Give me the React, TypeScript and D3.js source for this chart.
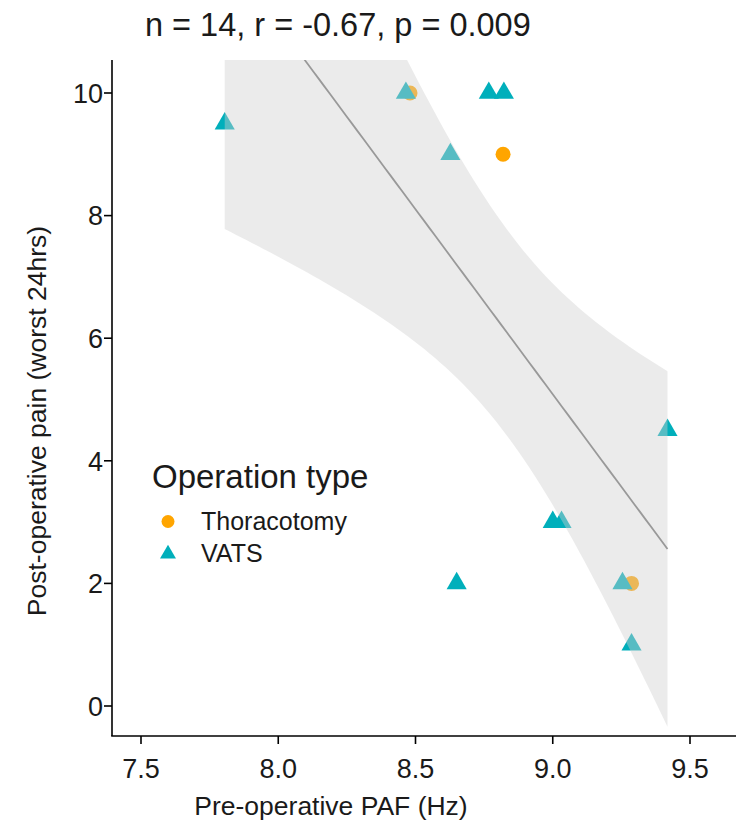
import React from "react";
import * as d3 from "d3";

// ---- data ----
const TITLE = "n = 14, r = -0.67, p = 0.009";
const X_LABEL = "Pre-operative PAF (Hz)";
const Y_LABEL = "Post-operative pain (worst 24hrs)";
const LEGEND_TITLE = "Operation type";
const GROUPS = ["Thoracotomy", "VATS"];
const GROUP_COLORS = ["#FFA500", "#00AFBB"];

const THOR_PAF = [8.48, 8.819, 9.287];
const THOR_PAIN = [10, 9, 2];

const VATS_PAF = [7.805, 8.465, 8.767, 8.822, 8.627, 9.418, 9.0, 9.032, 8.65, 9.254, 9.287];
const VATS_PAIN = [9.5, 10, 10, 10, 9, 4.5, 3, 3, 2, 2, 1];

const X_TICKS = [7.5, 8.0, 8.5, 9.0, 9.5];
const Y_TICKS = [0, 2, 4, 6, 8, 10];

// t quantile (0.975, df = 12) for the 95% confidence band of the linear fit
const T_975_DF12 = 2.1788;

const W = 736;
const H = 831;
const PANEL = { left: 112, right: 736, top: 60, bottom: 736 };

export default function App() {
  const x = d3.scaleLinear().domain([7.5, 9.5]).range([141, 690]);
  const y = d3.scaleLinear().domain([0, 10]).range([706, 93]);

  // linear model on all points
  const allX = [...THOR_PAF, ...VATS_PAF];
  const allY = [...THOR_PAIN, ...VATS_PAIN];
  const n = allX.length;
  const mx = d3.mean(allX) as number;
  const my = d3.mean(allY) as number;
  let sxx = 0, sxy = 0;
  allX.forEach((xi, i) => {
    sxx += (xi - mx) ** 2;
    sxy += (xi - mx) * (allY[i] - my);
  });
  const slope = sxy / sxx;
  const icpt = my - slope * mx;
  let sse = 0;
  allX.forEach((xi, i) => {
    sse += (allY[i] - (icpt + slope * xi)) ** 2;
  });
  const s = Math.sqrt(sse / (n - 2));
  const [xmin, xmax] = d3.extent(allX) as [number, number];
  const grid = d3.range(0, 81).map((i) => xmin + ((xmax - xmin) * i) / 80);
  const band = grid.map((gx) => {
    const fit = icpt + slope * gx;
    const se = s * Math.sqrt(1 / n + (gx - mx) ** 2 / sxx);
    return { x: gx, fit, lo: fit - T_975_DF12 * se, hi: fit + T_975_DF12 * se };
  });

  const area = d3
    .area<any>()
    .x((d) => x(d.x))
    .y0((d) => y(d.lo))
    .y1((d) => y(d.hi));
  const line = d3
    .line<any>()
    .x((d) => x(d.x))
    .y((d) => y(d.fit));

  const tri = d3.symbol().type(d3.symbolTriangle).size(175)();
  const triLegend = d3.symbol().type(d3.symbolTriangle).size(110)();

  const font = "'Liberation Sans', Arial, sans-serif";

  return (
    <svg
      width={W}
      height={H}
      style={{ position: "absolute", left: 0, top: 0, background: "#fff" }}
      fontFamily={font}
    >
      <defs>
        <clipPath id="panel">
          <rect
            x={PANEL.left}
            y={PANEL.top}
            width={PANEL.right - PANEL.left}
            height={PANEL.bottom - PANEL.top}
          />
        </clipPath>
      </defs>
      <rect x={0} y={0} width={W} height={H} fill="#fff" />

      {/* title */}
      <text x={145} y={36} fontSize={32.5} fill="#1a1a1a">
        {TITLE}
      </text>

      <g clipPath="url(#panel)">
        {/* points */}
        {THOR_PAF.map((px, i) => (
          <circle key={"t" + i} cx={x(px)} cy={y(THOR_PAIN[i])} r={7.5} fill={GROUP_COLORS[0]} />
        ))}
        {VATS_PAF.map((px, i) => (
          <path
            key={"v" + i}
            d={tri as string}
            transform={`translate(${x(px)},${y(VATS_PAIN[i])})`}
            fill={GROUP_COLORS[1]}
          />
        ))}
        {/* confidence band and fit */}
        <path d={area(band) as string} fill="rgb(207,207,207)" fillOpacity={0.42} />
        <path d={line(band) as string} fill="none" stroke="#999999" strokeWidth={1.8} />
      </g>

      {/* axes */}
      <line x1={PANEL.left} x2={PANEL.left} y1={PANEL.top} y2={PANEL.bottom} stroke="#000" strokeWidth={1.6} />
      <line x1={PANEL.left - 0.8} x2={PANEL.right} y1={PANEL.bottom} y2={PANEL.bottom} stroke="#000" strokeWidth={1.6} />

      {Y_TICKS.map((t) => (
        <g key={"yt" + t}>
          <line x1={PANEL.left - 8} x2={PANEL.left} y1={y(t)} y2={y(t)} stroke="#000" strokeWidth={1.6} />
          <text x={PANEL.left - 9} y={y(t)} dy="0.36em" textAnchor="end" fontSize={27} fill="#1a1a1a">
            {t}
          </text>
        </g>
      ))}
      {X_TICKS.map((t) => (
        <g key={"xt" + t}>
          <line x1={x(t)} x2={x(t)} y1={PANEL.bottom} y2={PANEL.bottom + 8} stroke="#000" strokeWidth={1.6} />
          <text x={x(t)} y={PANEL.bottom + 42} textAnchor="middle" fontSize={27} fill="#1a1a1a">
            {d3.format(".1f")(t)}
          </text>
        </g>
      ))}

      {/* axis titles */}
      <text x={331} y={815} textAnchor="middle" fontSize={26.5} fill="#1a1a1a">
        {X_LABEL}
      </text>
      <text
        transform={`translate(46,421) rotate(-90)`}
        textAnchor="middle"
        fontSize={26.5}
        fill="#1a1a1a"
      >
        {Y_LABEL}
      </text>

      {/* legend */}
      <text x={152} y={488} fontSize={33} fill="#1a1a1a">
        {LEGEND_TITLE}
      </text>
      <circle cx={168} cy={521.5} r={6.5} fill={GROUP_COLORS[0]} />
      <text x={201} y={530} fontSize={25} fill="#1a1a1a">
        {GROUPS[0]}
      </text>
      <path d={triLegend as string} transform="translate(168,554)" fill={GROUP_COLORS[1]} />
      <text x={201} y={562} fontSize={25} fill="#1a1a1a">
        {GROUPS[1]}
      </text>
    </svg>
  );
}
